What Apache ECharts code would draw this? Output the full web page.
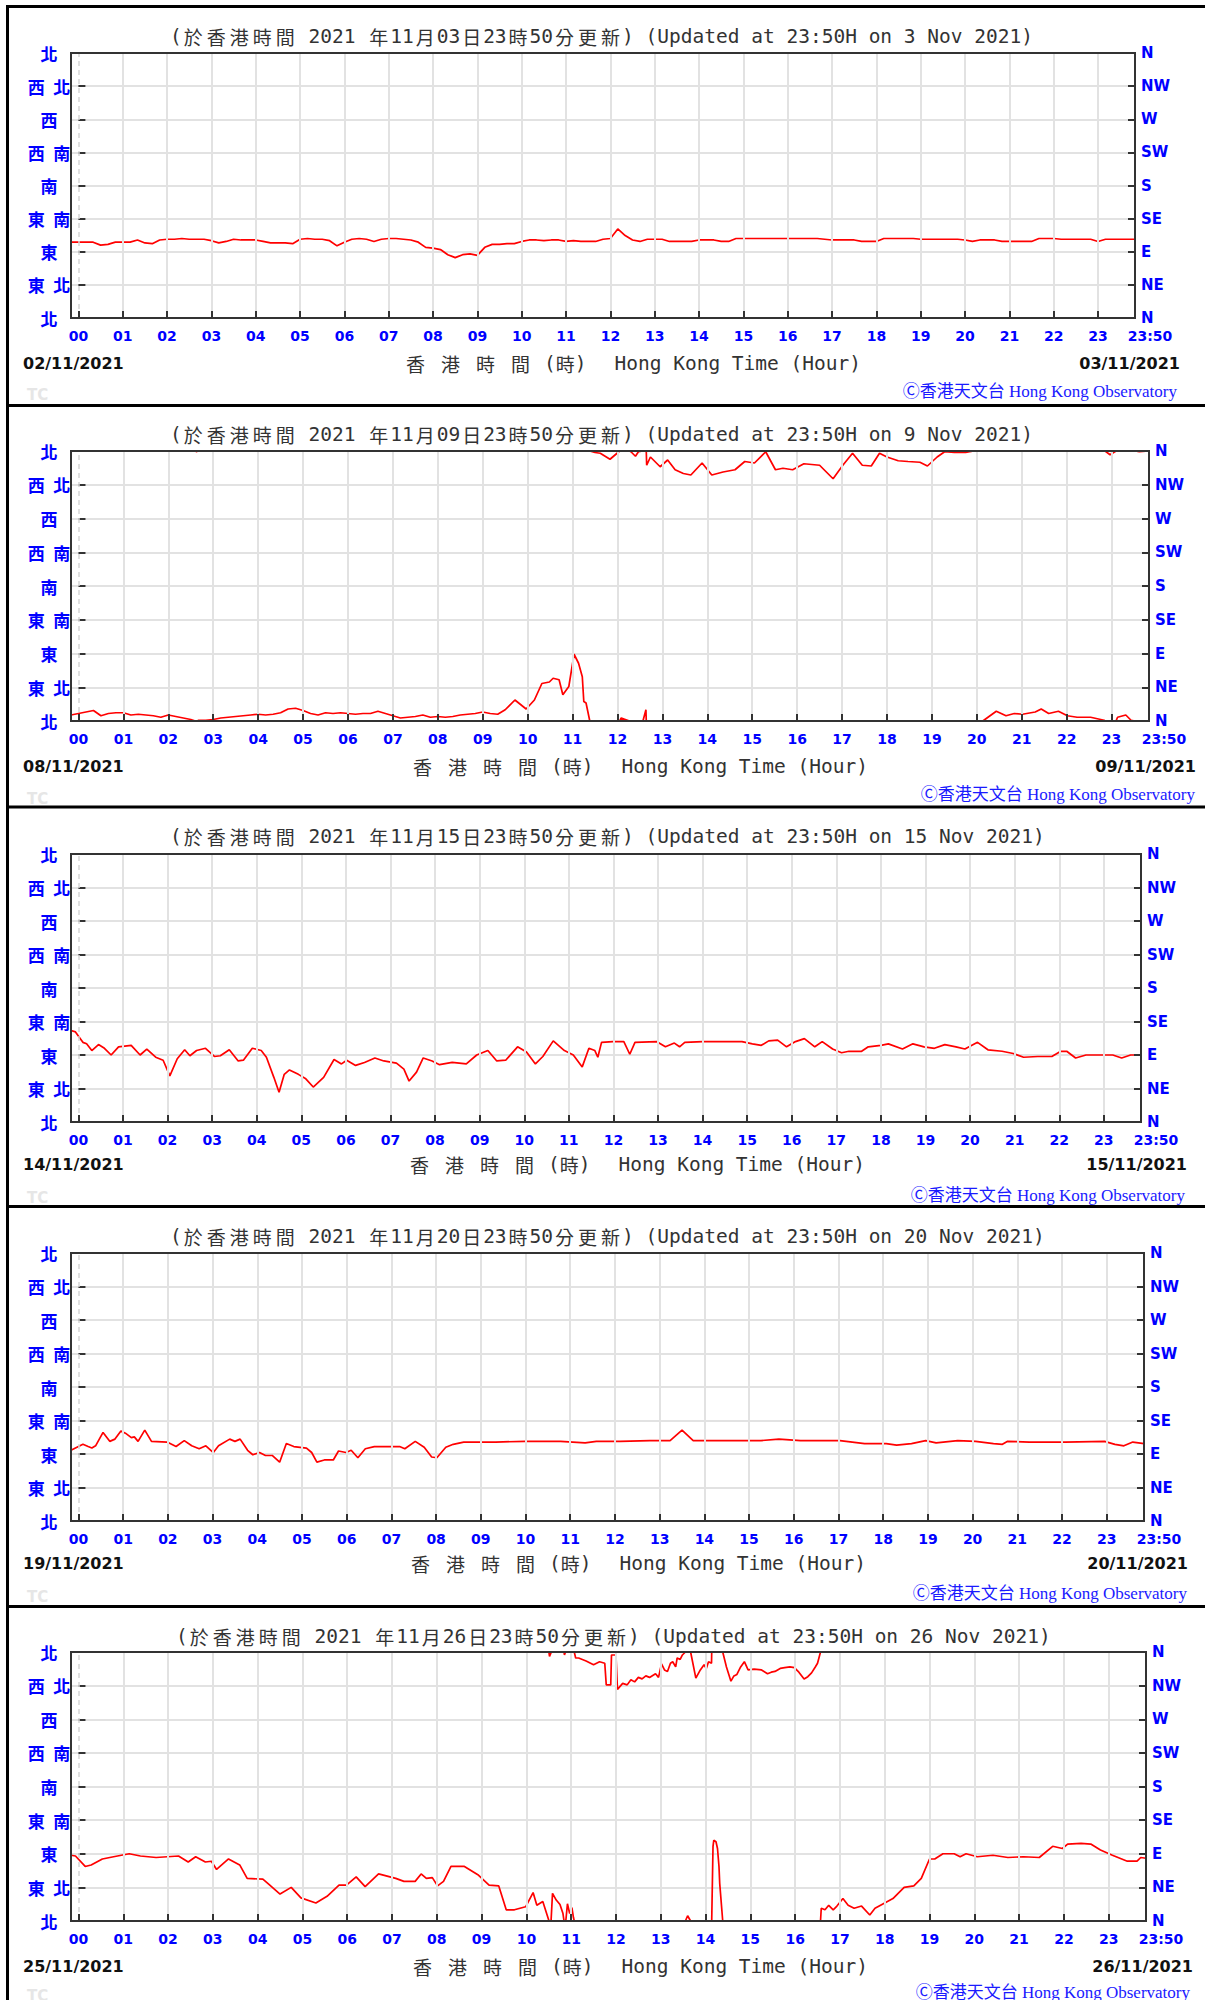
<!DOCTYPE html>
<html><head><meta charset="utf-8">
<script src="https://cdn.jsdelivr.net/npm/echarts@6/dist/echarts.min.js"></script>
<style>html,body{margin:0;padding:0;background:#fff}#c{width:1205px;height:2000px}</style>
</head><body><div id="c"></div>
<script>
// ---------- labels ----------
const dirLabelsZh = ['北','東北','東','東南','南','西南','西','西北','北'];
const dirLabelsEn = ['N','NE','E','SE','S','SW','W','NW','N'];
const hourTicks = [0,60,120,180,240,300,360,420,480,540,600,660,720,780,840,900,960,1020,1080,1140,1200,1260,1320,1380,1430];
const hourLabels = ['00','01','02','03','04','05','06','07','08','09','10','11','12','13','14','15','16','17','18','19','20','21','22','23','23:50'];
const updDaysZh = ['03','09','15','20','26'];
const updDaysEn = ['3','9','15','20','26'];
const leftDates = ['02/11/2021','08/11/2021','14/11/2021','19/11/2021','25/11/2021'];
const rightDates = ['03/11/2021','09/11/2021','15/11/2021','20/11/2021','26/11/2021'];

// ---------- data: wind direction (degrees) vs minutes from 00:00 ----------
const p1Dirs = [103,
103,103,103,99,100,103,
103,103,106,102,101,106,
107,107,108,107,107,107,
105,102,104,107,106,106,
106,104,102,102,102,101,
107,108,107,107,105,98,
103,107,108,107,104,107,
108,108,107,106,103,96,
95,93,86,82,86,87,
85,96,100,100,101,101,
104,106,106,105,106,106,
104,105,104,104,104,107,
108,121,112,106,104,107,
107,107,104,104,104,104,
106,106,106,104,104,108,
108,108,108,108,108,108,
108,108,108,108,108,107,
106,106,106,106,104,104,
104,108,108,108,108,108,
107,107,107,107,107,107,
106,104,106,106,106,104,
104,104,104,104,108,108,
108,107,107,107,107,107,
104,107,107,107,107,107];
const p1Times = p1Dirs.map((_, i) => -10 + 10 * i);

const p2Times = [-10,0,10,20,30,40,50,60,70,80,
90,100,110,120,130,140,150,156,158,160,
170,180,190,200,210,220,230,240,250,260,
270,280,290,300,310,320,330,340,350,360,
370,380,390,400,410,420,430,440,450,460,
470,480,490,500,510,520,530,540,550,560,
570,583,598,609,619,629,634,642,647,655,
662,668,673,675,678,683,690,697,710,723,
725,736,738,744,748,754,758,759,764,777,
787,797,808,818,833,846,861,877,890,903,
918,931,941,954,969,990,1008,1021,1034,1047,
1059,1070,1080,1095,1108,1124,1134,1147,1157,1170,
1185,1196,1208,1226,1239,1250,1261,1278,1286,1296,
1309,1321,1334,1352,1370,1378,1386,1388,1399,1406,
1417,1430];
const p2Dirs = [8,10,12,14,7,10,11,11,8,9,
8,7,5,8,6,4,2,0,359,1,
1,2,4,5,6,7,8,9,8,9,
11,16,17,14,10,8,11,10,11,10,
9,10,10,13,10,7,4,5,6,8,
5,6,5,6,8,9,10,12,10,9,
15,28,16,28,50,52,57,55,35,46,
89,77,59,26,24,0,358,357,349,0,
4,0,359,353,359,0,15,341,352,339,
348,335,330,328,344,328,332,335,346,344,
359,335,337,335,343,341,323,341,357,341,
340,357,352,347,346,345,340,352,359,358,
358,0,0,13,7,10,9,12,16,10,
13,7,5,5,1,355,0,5,8,1,
359,0];

const p3Times = [-10,-4,6,11,18,27,35,44,54,71,
83,92,104,114,123,133,143,150,159,171,
183,191,203,215,222,234,246,253,263,270,
277,284,296,306,316,330,344,354,361,373,
385,399,411,428,438,445,455,464,476,486,
503,522,536,551,563,575,591,603,615,625,
639,654,666,678,687,695,699,704,719,734,
742,749,778,790,802,809,816,840,893,907,
919,929,941,953,965,977,991,1001,1015,1027,
1037,1054,1063,1080,1090,1109,1123,1138,1152,1166,
1181,1193,1210,1224,1243,1258,1272,1291,1310,1322,
1330,1342,1356,1392,1404,1416,1430];
const p3Dirs = [123,121,107,105,96,104,99,90,101,103,
90,98,87,83,62,85,97,89,96,99,
88,89,97,82,83,99,96,87,60,40,
64,70,64,58,47,60,84,78,83,76,
80,86,82,79,71,55,67,86,82,77,
80,78,90,96,82,83,101,94,78,88,
109,96,90,74,99,96,87,107,108,108,
91,107,108,101,106,101,107,108,108,105,
103,109,110,101,108,112,101,108,98,93,
95,95,101,103,105,98,105,101,99,104,
101,98,107,97,95,92,87,88,88,95,
95,86,90,90,86,90,90];

const p4Times = [-10,-4,6,13,18,23,33,42,49,57,
63,71,75,80,89,98,119,131,142,152,
162,171,181,188,203,210,217,227,234,243,
251,260,270,279,289,306,313,320,330,342,
349,359,366,375,385,397,411,431,438,452,
464,474,481,493,503,517,541,560,599,647,
680,695,727,767,794,810,825,844,916,940,
969,1022,1055,1084,1098,1118,1137,1151,1180,1204,
1228,1240,1247,1276,1324,1377,1391,1403,1415,1430];
const p4Dirs = [95,98,103,100,98,101,119,107,110,121,
118,112,113,107,122,107,106,100,108,101,
97,101,92,101,110,107,110,95,89,92,
88,88,79,104,100,98,92,79,82,82,
94,92,95,85,97,100,100,100,97,107,
99,86,85,99,103,106,106,106,107,107,
105,107,107,108,108,122,108,108,108,110,
108,108,104,104,102,104,108,105,108,107,
104,103,107,106,106,107,103,101,106,104];

const p5Times = [-10,-4,9,17,32,47,68,83,104,119,
134,147,157,170,178,185,201,216,226,247,
254,270,285,298,318,333,349,359,372,384,
402,425,436,451,459,466,474,481,489,499,
517,535,550,563,573,584,599,609,614,622,
630,631,633,635,640,645,649,651,653,655,
658,661,663,666,670,680,690,698,705,707,
713,714,720,722,729,735,740,745,750,755,
760,765,773,777,781,785,789,793,796,800,
802,806,809,813,816,820,827,833,838,841,
844,848,850,851,854,856,858,859,863,868,
874,878,882,887,892,897,905,915,923,928,
933,940,946,953,959,965,972,977,982,987,
990,994,995,1000,1005,1011,1016,1024,1031,1039,
1049,1060,1067,1080,1091,1106,1119,1129,1140,1147,
1158,1173,1181,1189,1204,1225,1245,1266,1287,1305,
1318,1325,1343,1356,1369,1385,1395,1405,1418,1423,
1430];
const p5Dirs = [88,87,73,75,83,86,90,87,85,86,
87,79,86,79,80,69,83,75,57,56,
50,36,45,31,24,33,48,48,59,46,
63,57,53,53,63,57,58,47,53,73,
73,62,48,47,15,15,19,38,21,26,
1,354,359,37,28,22,10,356,2,23,
10,18,5,352,352,348,343,347,345,316,
316,356,356,310,318,316,323,320,326,324,
328,326,331,326,344,336,334,345,347,340,
352,350,356,0,7,0,325,336,343,338,
347,345,100,108,106,97,73,50,0,340,
321,328,330,340,347,336,337,336,331,333,
334,338,339,340,339,333,324,327,332,340,
345,0,17,15,21,15,20,30,21,17,
20,8,17,24,30,45,47,57,83,83,
90,90,86,90,86,88,85,86,85,100,
97,103,104,103,95,88,84,80,80,85,
84];

// ---------- layout (pixels) ----------
const layout = [
  {top:6.5,   gT:53,   gB:318,  gR:1135, titleL:170, titleY:36,   axL:398, dateY:363,  rDateR:1180, copyR:1177, copyY:391,  tcY:395},
  {top:405.5, gT:451,  gB:721,  gR:1149, titleL:170, titleY:434,  axL:405, dateY:766,  rDateR:1196, copyR:1195, copyY:794,  tcY:799},
  {top:807,   gT:854,  gB:1122, gR:1141, titleL:170, titleY:836,  axL:402, dateY:1164, rDateR:1187, copyR:1185, copyY:1195, tcY:1198},
  {top:1206.5,gT:1253, gB:1521, gR:1144, titleL:170, titleY:1236, axL:403, dateY:1563, rDateR:1188, copyR:1187, copyY:1593, tcY:1597},
  {top:1606.5,gT:1652, gB:1921, gR:1146, titleL:176, titleY:1636, axL:405, dateY:1966, rDateR:1193, copyR:1190, copyY:1992, tcY:1996}
];

const panelTimes = [p1Times, p2Times, p3Times, p4Times, p5Times];
const panelDirs = [p1Dirs, p2Dirs, p3Dirs, p4Dirs, p5Dirs];

const BLUE = '#0000ff';
const MONO = '"DejaVu Sans Mono",monospace';
const ZH = '"Noto Sans CJK TC",sans-serif';
const FONT_B = '"DejaVu Sans",sans-serif';

// direction is circular: unwrap so the drawn line leaves one edge and re-enters the other
function unwrap(a) {
  const out = [a[0]];
  for (let i = 1; i < a.length; i++) {
    let v = a[i]; const p = out[i - 1];
    while (v - p > 180) v -= 360;
    while (v - p < -180) v += 360;
    out.push(v);
  }
  return out;
}
// split text into CJK (z) and latin (a) rich tokens
function richify(s) {
  let out = '', run = '';
  for (const ch of s) {
    if (ch.charCodeAt(0) >= 0x2E80) { if (run) { out += '{a|' + run + '}'; run = ''; } out += '{z|' + ch + '}'; }
    else run += ch;
  }
  if (run) out += '{a|' + run + '}';
  return out;
}

const grids = [], xAxes = [], yAxes = [], series = [], elements = [];
const tickStyle = {color:'#333', width:2};

layout.forEach((L, i) => {
  grids.push({left:71, top:L.gT, width:L.gR - 71, height:L.gB - L.gT, show:true,
    borderColor:'#333', borderWidth:2, backgroundColor:'transparent', z:6});
  xAxes.push({type:'value', gridIndex:i, min:-10, max:1430, z:5,
    axisLine:{show:false}, splitLine:{show:false},
    axisTick:{show:true, inside:true, length:7, customValues:hourTicks, lineStyle:tickStyle},
    axisLabel:{show:true, customValues:hourTicks, margin:11, color:BLUE, fontSize:14, fontWeight:'bold', fontFamily:FONT_B,
      showMinLabel:true, showMaxLabel:true,
      formatter: v => { const s = hourLabels[hourTicks.indexOf(v)]; return v === 1430 ? '{e|' + s + '}' : s; },
      rich:{e:{padding:[0,0,0,30], color:BLUE, fontSize:14, fontWeight:'bold', fontFamily:FONT_B}}}});
  yAxes.push({type:'value', gridIndex:i, position:'left', min:0, max:360, interval:45,
    axisLine:{show:false},
    axisTick:{show:true, inside:true, length:7, lineStyle:tickStyle},
    axisLabel:{margin:22, align:'center', color:BLUE, fontSize:17, fontWeight:'bold', fontFamily:ZH, showMinLabel:true, showMaxLabel:true,
      formatter: v => dirLabelsZh[Math.round(v / 45)].split('').join('\u2002')},
    splitLine:{show:true, lineStyle:{color:'#e2e2e2', width:2}}});
  yAxes.push({type:'value', gridIndex:i, position:'right', min:0, max:360, interval:45, z:5,
    axisLine:{show:false},
    axisTick:{show:true, inside:true, length:7, lineStyle:tickStyle},
    axisLabel:{margin:6, align:'left', color:BLUE, fontSize:15, fontWeight:'bold', fontFamily:FONT_B, showMinLabel:true, showMaxLabel:true,
      formatter: v => dirLabelsEn[Math.round(v / 45)]},
    splitLine:{show:false}});

  // hourly vertical grid lines (00 dashed)
  series.push({type:'line', xAxisIndex:i, yAxisIndex:2 * i, data:[[-10, -1000]], showSymbol:false, z:1, silent:true, animation:false,
    lineStyle:{width:0},
    markLine:{silent:true, symbol:['none','none'], label:{show:false}, animation:false,
      lineStyle:{color:'#e2e2e2', width:2, type:'solid'},
      data: hourTicks.slice(0, 24).map(t => t === 0
        ? {xAxis:t, lineStyle:{color:'#d6d6d6', width:1.5, type:[5,4]}}
        : {xAxis:t})}});

  const uw = unwrap(panelDirs[i]);
  [-360, 0, 360].forEach(off => {
    series.push({type:'line', xAxisIndex:i, yAxisIndex:2 * i,
      data: panelTimes[i].map((t, k) => [t, uw[k] + off]),
      showSymbol:false, symbol:'none', clip:true, z:3, silent:true, animation:false,
      lineStyle:{color:'#ff0000', width:1.7}});
  });

  // frame and texts
  elements.push({type:'line', z:100, shape:{x1:6, y1:L.top, x2:1205, y2:L.top}, style:{stroke:'#000', lineWidth:3}});
  const title = '(於香港時間 2021 年11月' + updDaysZh[i] + '日23時50分更新) (Updated at 23:50H on ' + updDaysEn[i] + ' Nov 2021)';
  elements.push({type:'text', z:50, x:L.titleL, y:L.titleY, style:{
    text: richify(title), fill:'#333', textAlign:'left', textVerticalAlign:'middle', align:'left', verticalAlign:'middle',
    rich:{a:{fontSize:19.5, fontFamily:MONO, fill:'#333', color:'#333'},
          z:{fontSize:19, fontFamily:ZH, padding:[0,2,0,2], fill:'#333', color:'#333'}}}});
  elements.push({type:'text', z:50, x:L.axL, y:L.dateY, style:{
    text:'{z|香}{z|港}{z|時}{z|間}{p1|(}{q|時}{p|)}{h|Hong Kong Time (Hour)}',
    fill:'#333', textAlign:'left', textVerticalAlign:'middle', align:'left', verticalAlign:'middle',
    rich:{z:{fontSize:19, fontFamily:ZH, padding:[0,8,0,8], color:'#333', fill:'#333'},
          p1:{fontSize:19.5, fontFamily:MONO, padding:[0,0,0,6], color:'#333', fill:'#333'},
          q:{fontSize:19, fontFamily:ZH, color:'#333', fill:'#333'},
          p:{fontSize:19.5, fontFamily:MONO, color:'#333', fill:'#333'},
          h:{fontSize:19.5, fontFamily:MONO, padding:[0,0,0,28], color:'#333', fill:'#333'}}}});
  elements.push({type:'text', z:50, x:23, y:L.dateY, style:{text:leftDates[i], font:'bold 16px ' + FONT_B, fill:'#111',
    textAlign:'left', textVerticalAlign:'middle', align:'left', verticalAlign:'middle'}});
  elements.push({type:'text', z:50, x:L.rDateR, y:L.dateY, style:{text:rightDates[i], font:'bold 16px ' + FONT_B, fill:'#111',
    textAlign:'right', textVerticalAlign:'middle', align:'right', verticalAlign:'middle'}});
  elements.push({type:'text', z:50, x:L.copyR, y:L.copyY, style:{text:'Ⓒ香港天文台 Hong Kong Observatory',
    font:'17px "Liberation Serif","Noto Sans CJK TC",serif', fill:'#1a1aff',
    textAlign:'right', textVerticalAlign:'middle', align:'right', verticalAlign:'middle'}});
  elements.push({type:'text', z:50, x:27, y:L.tcY, style:{text:'TC', font:'bold 15px ' + FONT_B, fill:'#e6e6e6',
    textAlign:'left', textVerticalAlign:'middle', align:'left', verticalAlign:'middle'}});
});
elements.push({type:'line', z:100, shape:{x1:7.5, y1:5, x2:7.5, y2:2000}, style:{stroke:'#000', lineWidth:3}});

const chart = echarts.init(document.getElementById('c'), null, {renderer:'svg', width:1205, height:2000});
chart.setOption({
  animation:false,
  backgroundColor:'#fff',
  grid:grids, xAxis:xAxes, yAxis:yAxes, series:series,
  graphic:{elements:elements}
});
</script>
</body></html>
